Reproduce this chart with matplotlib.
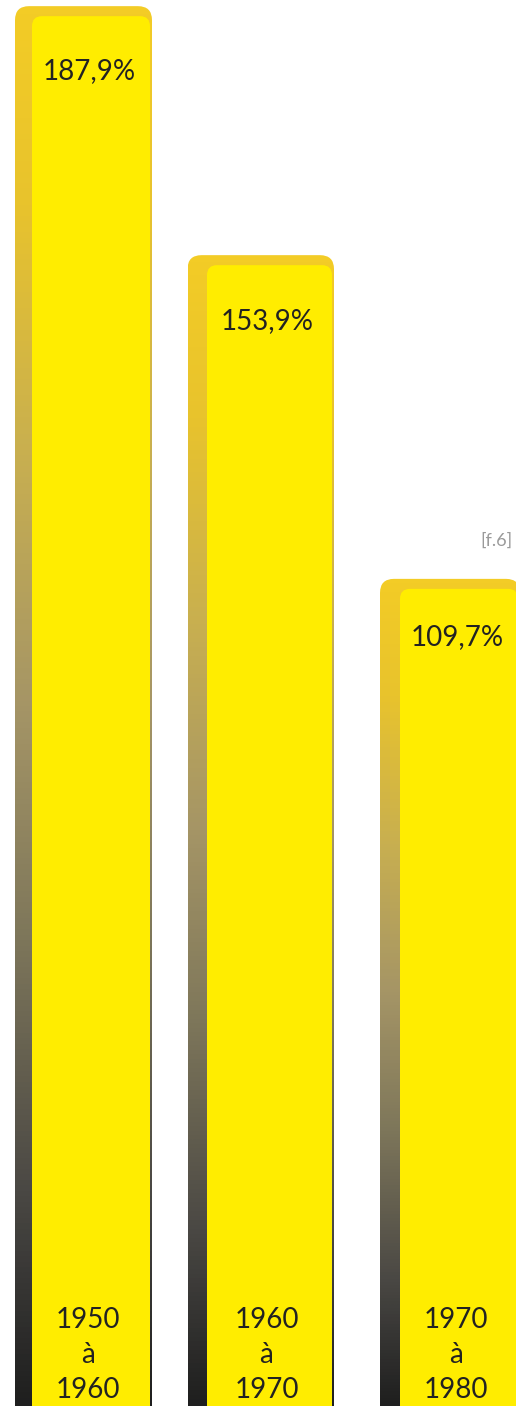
import numpy as np
import matplotlib
matplotlib.use("Agg")
import matplotlib.pyplot as plt
from matplotlib.patches import FancyBboxPatch
from matplotlib.colors import LinearSegmentedColormap
import matplotlib.transforms as mtransforms

# data
categories = ["1950\nà\n1960", "1960\nà\n1970", "1970\nà\n1980"]
values = [187.9, 153.9, 109.7]
value_labels = ["187,9%", "153,9%", "109,7%"]
note = "[f.6]"

# layout (pixels on x, value units on y)
W, H = 516, 1406
y_low, y_high = -3.24, 188.74
px_per_unit = H / (y_high - y_low)
back_left = [15, 187.5, 380]
back_width = [137, 146.5, 140]
front_left = [32, 207, 400]
front_width = [118, 125, 118]
label_drop_px = [65, 66, 58]
front_drop = 10 / px_per_unit
bar_bottom = y_low - 5

yellow = "#FFED00"
text_color = "#222222"
grad = LinearSegmentedColormap.from_list("shadow", [
    (0.0, "#F3CC26"), (0.14, "#E8C32D"), (0.32, "#C8AF50"), (0.5, "#A59566"),
    (0.67, "#7D765A"), (0.85, "#4A4844"), (1.0, "#1F1F1F")])

plt.rcParams['font.family'] = ['Lato', 'DejaVu Sans']

fig = plt.figure(figsize=(W / 100, H / 100), dpi=100)
ax = fig.add_axes([0, 0, 1, 1])
ax.set_xlim(0, W)
ax.set_ylim(y_low, y_high)
ax.axis("off")

aspect = 1 / px_per_unit
g = np.linspace(0, 1, 256).reshape(-1, 1)
trans = mtransforms.blended_transform_factory(ax.transData, ax.transAxes)

for i, v in enumerate(values):
    # back bar with gradient
    back = FancyBboxPatch((back_left[i], bar_bottom), back_width[i], v - bar_bottom,
                          boxstyle="round,pad=0,rounding_size=14",
                          mutation_aspect=aspect, facecolor="none", edgecolor="none")
    ax.add_patch(back)
    im = ax.imshow(g, cmap=grad, aspect="auto", origin="upper",
                   extent=[back_left[i], back_left[i] + back_width[i], y_low, v],
                   interpolation="bilinear", zorder=1)
    im.set_clip_path(back)

    # front bar
    front = FancyBboxPatch((front_left[i], bar_bottom), front_width[i],
                           v - front_drop - bar_bottom,
                           boxstyle="round,pad=0,rounding_size=10",
                           mutation_aspect=aspect, facecolor=yellow,
                           edgecolor="none", zorder=2)
    ax.add_patch(front)

    cx = front_left[i] + front_width[i] / 2
    ax.annotate(value_labels[i], xy=(cx - 2, v), xytext=(0, -label_drop_px[i]),
                textcoords="offset pixels", ha="center", va="center",
                fontsize=20, color=text_color, zorder=3)

    ax.text(cx - 3, 1 - 1355 / H, categories[i], transform=trans,
            ha="center", va="center", fontsize=20,
            color=text_color, linespacing=1.45, zorder=3)

ax.text(513 / W, 1 - 541 / H, note, transform=ax.transAxes, ha="right",
        va="center", fontsize=13, color="#9A9A9A")

fig.savefig("out.png", dpi=100)
